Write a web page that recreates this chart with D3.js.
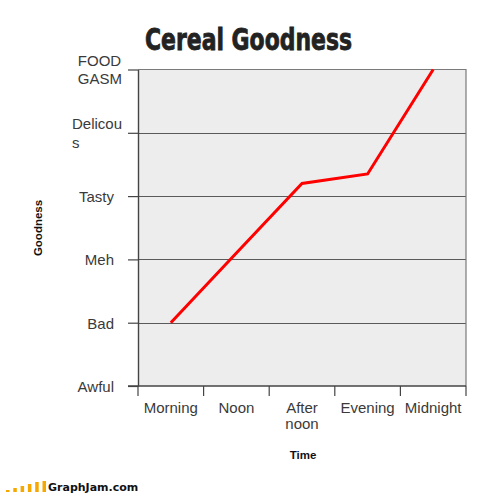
<!DOCTYPE html>
<html><head><meta charset="utf-8">
<script src="https://cdn.jsdelivr.net/npm/d3@7"></script>
<style>html,body{margin:0;padding:0;background:#fff;}svg{display:block;}</style>
</head><body>
<svg id="chart" width="500" height="493"></svg>
<script>
const title = "Cereal Goodness";
const categories = ["Morning","Noon","Afternoon","Evening","Midnight"];
const categoryLabels = [["Morning"],["Noon"],["After","noon"],["Evening"],["Midnight"]];
const values = [1.0, 2.1, 3.2, 3.35, 5.0];
const yTickValues = [0,1,2,3,4,5];
const yTickLabels = [["Awful"],["Bad"],["Meh"],["Tasty"],["Delicou","s"],["FOOD","GASM"]];
const xTitle = "Time";
const yTitle = "Goodness";
const logoBars = [2,4,6,8,10,11];

const svg = d3.select("#chart");
const L = 138, R = 466, T = 69.5, B = 386;
const x = d3.scaleBand().domain(categories).range([L, R]);
const y = d3.scaleLinear().domain([0,5]).range([B, T]);

// plot background
svg.append("rect").attr("x",L).attr("y",T).attr("width",R-L).attr("height",B-T).attr("fill","#ededed");

// gridlines
svg.append("g").selectAll("line").data(yTickValues.filter(v=>v>0 && v<5)).join("line")
  .attr("x1",L).attr("x2",R).attr("y1",d=>Math.round(y(d))+0.5).attr("y2",d=>Math.round(y(d))+0.5)
  .attr("stroke","#5a5a5a").attr("stroke-width",1);
// top & right border
svg.append("path").attr("d",`M${L},${T}H${R}V${B}`).attr("fill","none").attr("stroke","#7a7a7a").attr("stroke-width",1.2);

// y axis
const yAxis = svg.append("g").attr("transform",`translate(${L},0)`)
  .call(d3.axisLeft(y).tickValues(yTickValues).tickSize(10).tickSizeOuter(0).tickPadding(14))
  .attr("font-size",15).attr("font-family","'Liberation Sans', Arial, sans-serif");
yAxis.select(".domain").attr("stroke","#444").attr("stroke-width",1.4);
yAxis.selectAll(".tick line").attr("stroke","#444").attr("stroke-width",1.2);
yAxis.selectAll(".tick text").each(function(d,i){
  const t = d3.select(this).text(null).attr("fill","#3a3a3a").attr("dy",null);
  const lines = yTickLabels[i];
  if (lines.length === 1) {
    t.attr("text-anchor","end").attr("dy","0.36em").text(lines[0]);
  } else {
    t.attr("text-anchor","start").attr("x",0);
    const tmp = [];
    lines.forEach((s,j)=>{
      tmp.push(t.append("tspan").attr("dy", j===0 ? "-0.26em" : "1.22em").text(s));
    });
    let w = 0; tmp.forEach(ts=>{ w = Math.max(w, ts.node().getComputedTextLength()); });
    tmp.forEach(ts=>ts.attr("x",-16-w));
  }
});

// x axis
const xg = svg.append("g");
xg.append("line").attr("x1",L-10).attr("x2",R).attr("y1",B).attr("y2",B).attr("stroke","#444").attr("stroke-width",1.4);
const bounds = d3.range(categories.length+1).map(i=>L + i*x.step());
xg.selectAll(".xt").data(bounds).join("line").attr("class","xt")
  .attr("x1",d=>d).attr("x2",d=>d).attr("y1",B).attr("y2",B+10).attr("stroke","#444").attr("stroke-width",1.2);
xg.selectAll(".xl").data(categories).join("text").attr("class","xl")
  .attr("x",d=>x(d)+x.bandwidth()/2).attr("y",413)
  .attr("text-anchor","middle").attr("font-family","'Liberation Sans', Arial, sans-serif")
  .attr("font-size",15).attr("fill","#3a3a3a")
  .each(function(d,i){
    const t = d3.select(this);
    categoryLabels[i].forEach((s,j)=>{
      t.append("tspan").attr("x",x(d)+x.bandwidth()/2).attr("dy", j===0?0:"1.05em").text(s);
    });
  });

// line
const line = d3.line().x((d,i)=>x(categories[i])+x.bandwidth()/2).y(d=>y(d));
svg.append("path").datum(values).attr("d",line).attr("fill","none")
  .attr("stroke","#ff0000").attr("stroke-width",3).attr("stroke-linejoin","miter");

// title
svg.append("text").attr("x",145).attr("y",50).attr("font-family","'Liberation Sans Narrow','DejaVu Sans Condensed','Liberation Sans',sans-serif")
  .attr("font-weight","bold").attr("font-size",31).attr("fill","#222")
  .attr("stroke","#222").attr("stroke-width",0.8).text(title)
  .attr("textLength",207).attr("lengthAdjust","spacingAndGlyphs");

// axis titles
svg.append("text").attr("x",303).attr("y",459).attr("text-anchor","middle")
  .attr("font-family","'Liberation Sans', Arial, sans-serif").attr("font-weight","bold")
  .attr("font-size",11.5).attr("fill","#111").text(xTitle);
svg.append("text").attr("transform","translate(42,228) rotate(-90)").attr("text-anchor","middle")
  .attr("font-family","'Liberation Sans', Arial, sans-serif").attr("font-weight","bold")
  .attr("font-size",11.5).attr("fill","#111").text(yTitle);

// footer logo
const lg = svg.append("g");
lg.selectAll("rect").data(logoBars).join("rect")
  .attr("x",(d,i)=>6+i*7.3).attr("y",d=>492-d).attr("width",3.5).attr("height",d=>d).attr("fill","#f6a800");
svg.append("text").attr("x",48).attr("y",491).attr("font-family","'DejaVu Sans', Verdana, sans-serif")
  .attr("font-weight","bold").attr("font-size",11).attr("fill","#111").text("GraphJam.com");
</script>
</body></html>
